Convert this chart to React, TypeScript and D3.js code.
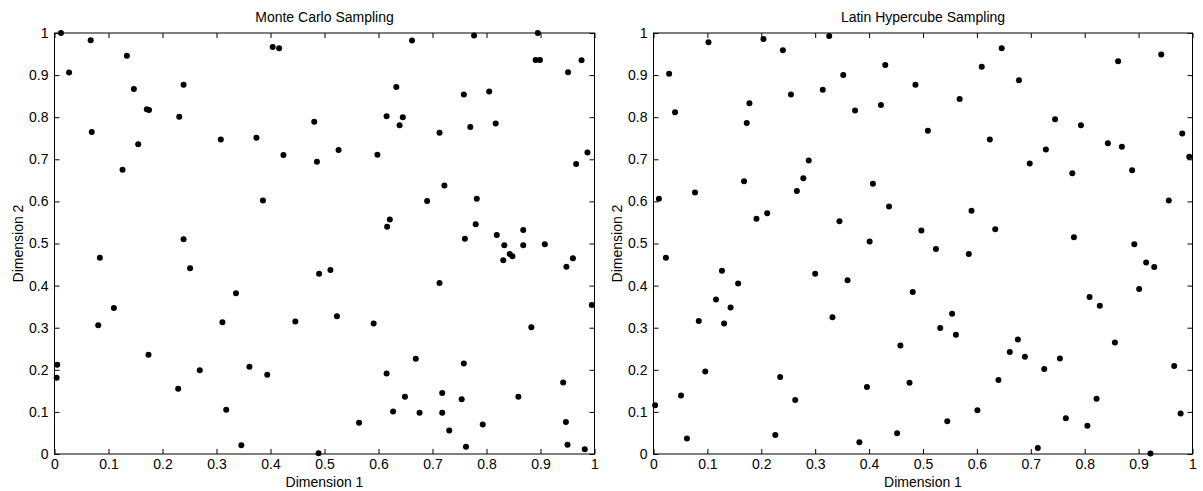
import { useEffect, useRef } from "react";
import * as d3 from "d3";

// Monte Carlo sample points [dim1, dim2]
const mcDim1 = [
  0.012, 0.027, 0.067, 0.069, 0.126, 0.134, 0.147, 0.155, 0.171, 0.175,
  0.231, 0.239, 0.239, 0.308, 0.374, 0.386, 0.404, 0.416, 0.424, 0.481,
  0.486, 0.526, 0.598, 0.615, 0.633, 0.639, 0.645, 0.662, 0.69, 0.713,
  0.722, 0.758, 0.77, 0.777, 0.782, 0.805, 0.817, 0.78, 0.76, 0.616,
  0.621, 0.819, 0.833, 0.868, 0.868, 0.908, 0.895, 0.891, 0.899, 0.951,
  0.976, 0.966, 0.987, 0.084, 0.251, 0.49, 0.336, 0.11, 0.081, 0.311,
  0.446, 0.174, 0.005, 0.004, 0.269, 0.361, 0.394, 0.229, 0.318, 0.346,
  0.489, 0.511, 0.713, 0.523, 0.591, 0.883, 0.995, 0.669, 0.758, 0.615,
  0.942, 0.649, 0.718, 0.754, 0.859, 0.627, 0.676, 0.718, 0.564, 0.731,
  0.793, 0.947, 0.762, 0.95, 0.982, 0.831, 0.843, 0.848, 0.948, 0.96,
];
const mcDim2 = [
  1.0, 0.906, 0.983, 0.765, 0.675, 0.946, 0.867, 0.736, 0.819, 0.817,
  0.801, 0.877, 0.51, 0.747, 0.751, 0.602, 0.967, 0.964, 0.71, 0.789,
  0.694, 0.722, 0.711, 0.802, 0.872, 0.781, 0.8, 0.982, 0.601, 0.763,
  0.638, 0.854, 0.777, 0.994, 0.606, 0.861, 0.785, 0.546, 0.511, 0.54,
  0.557, 0.52, 0.496, 0.532, 0.496, 0.498, 1.0, 0.936, 0.936, 0.907,
  0.935, 0.689, 0.716, 0.466, 0.441, 0.428, 0.382, 0.347, 0.306, 0.313,
  0.315, 0.236, 0.212, 0.181, 0.199, 0.207, 0.188, 0.155, 0.105, 0.021,
  0.002, 0.437, 0.406, 0.327, 0.31, 0.301, 0.354, 0.226, 0.215, 0.191,
  0.17, 0.136, 0.145, 0.13, 0.136, 0.101, 0.098, 0.098, 0.074, 0.056,
  0.07, 0.076, 0.017, 0.022, 0.011, 0.46, 0.475, 0.47, 0.445, 0.465,
];

// Latin Hypercube sample points [dim1, dim2]
const lhsDim1 = [
  0.01, 0.029, 0.04, 0.077, 0.102, 0.168, 0.173, 0.178, 0.191, 0.204,
  0.211, 0.24, 0.255, 0.266, 0.278, 0.288, 0.314, 0.326, 0.345, 0.352,
  0.374, 0.401, 0.407, 0.422, 0.43, 0.437, 0.486, 0.497, 0.509, 0.524,
  0.568, 0.59, 0.609, 0.624, 0.634, 0.646, 0.678, 0.698, 0.728, 0.745,
  0.777, 0.793, 0.78, 0.843, 0.862, 0.869, 0.888, 0.892, 0.942, 0.956,
  0.981, 0.994, 0.023, 0.127, 0.157, 0.116, 0.143, 0.084, 0.131, 0.096,
  0.051, 0.003, 0.062, 0.3, 0.36, 0.332, 0.235, 0.263, 0.226, 0.382,
  0.396, 0.481, 0.458, 0.475, 0.452, 0.585, 0.914, 0.929, 0.901, 0.809,
  0.828, 0.554, 0.532, 0.561, 0.676, 0.856, 0.661, 0.689, 0.754, 0.966,
  0.725, 0.64, 0.822, 0.601, 0.978, 0.545, 0.765, 0.805, 0.713, 0.922,
];
const lhsDim2 = [
  0.606, 0.903, 0.812, 0.621, 0.978, 0.648, 0.786, 0.833, 0.559, 0.986,
  0.572, 0.959, 0.854, 0.625, 0.655, 0.697, 0.865, 0.993, 0.553, 0.9,
  0.816, 0.505, 0.642, 0.829, 0.924, 0.588, 0.877, 0.531, 0.768, 0.487,
  0.843, 0.578, 0.92, 0.747, 0.534, 0.964, 0.888, 0.69, 0.723, 0.795,
  0.667, 0.781, 0.515, 0.738, 0.933, 0.73, 0.674, 0.498, 0.949, 0.602,
  0.761, 0.706, 0.466, 0.435, 0.405, 0.367, 0.348, 0.316, 0.31, 0.196,
  0.139, 0.116, 0.037, 0.428, 0.413, 0.325, 0.183, 0.128, 0.045, 0.028,
  0.159, 0.385, 0.258, 0.169, 0.049, 0.475, 0.455, 0.444, 0.392, 0.373,
  0.352, 0.333, 0.299, 0.283, 0.272, 0.265, 0.242, 0.231, 0.227, 0.209,
  0.202, 0.176, 0.131, 0.104, 0.096, 0.078, 0.085, 0.067, 0.014, 0.001,
];

const tickValues = d3.range(0, 11).map((i) => i / 10);

const W = 1203;
const H = 491;
const FONT = "'Liberation Sans', Arial, sans-serif";

function ScatterPanel({ left, right, title, xs, ys }) {
  const xAxisRef = useRef();
  const yAxisRef = useRef();
  const topRef = useRef();
  const rightRef = useRef();

  const top = 33;
  const bottom = 454;

  const xScale = d3.scaleLinear().domain([0, 1]).range([left, right]);
  const yScale = d3.scaleLinear().domain([0, 1]).range([bottom, top]);

  useEffect(() => {
    const fmt = (d) => String(+d.toFixed(1));
    const style = (g) => {
      g.select(".domain").remove();
      g.selectAll("line").attr("stroke", "#000");
      g.selectAll("text")
        .attr("fill", "#000")
        .style("font-family", FONT)
        .style("font-size", "14px");
    };
    d3.select(xAxisRef.current)
      .call(d3.axisBottom(xScale).tickValues(tickValues).tickSizeInner(-5).tickSizeOuter(0).tickPadding(5).tickFormat(fmt))
      .call(style);
    d3.select(yAxisRef.current)
      .call(d3.axisLeft(yScale).tickValues(tickValues).tickSizeInner(-5).tickSizeOuter(0).tickPadding(6).tickFormat(fmt))
      .call(style);
    d3.select(topRef.current)
      .call(d3.axisTop(xScale).tickValues(tickValues).tickSizeInner(-5).tickSizeOuter(0).tickFormat(() => ""))
      .call(style);
    d3.select(rightRef.current)
      .call(d3.axisRight(yScale).tickValues(tickValues).tickSizeInner(-5).tickSizeOuter(0).tickFormat(() => ""))
      .call(style);
  }, []);

  const cx = (left + right) / 2;

  return (
    <g>
      <rect x={left} y={top} width={right - left} height={bottom - top} fill="none" stroke="#000" strokeWidth={1} />
      <g ref={xAxisRef} transform={`translate(0,${bottom})`}></g>
      <g ref={yAxisRef} transform={`translate(${left},0)`}></g>
      <g ref={topRef} transform={`translate(0,${top})`}></g>
      <g ref={rightRef} transform={`translate(${right},0)`}></g>
      {xs.map((d, i) => (
        <circle key={i} cx={xScale(d)} cy={yScale(ys[i])} r={3} fill="#000" />
      ))}
      <text x={cx} y={22} textAnchor="middle" fontFamily={FONT} fontSize={14} fill="#000">
        {title}
      </text>
      <text x={cx} y={487} textAnchor="middle" fontFamily={FONT} fontSize={14} fill="#000">
        Dimension 1
      </text>
      <text
        transform={`translate(${left - 32},${(top + bottom) / 2}) rotate(-90)`}
        textAnchor="middle"
        fontFamily={FONT}
        fontSize={14}
        fill="#000"
      >
        Dimension 2
      </text>
    </g>
  );
}

export default function App() {
  return (
    <svg width={W} height={H} style={{ position: "absolute", left: 0, top: 0, background: "#fff" }}>
      <rect width={W} height={H} fill="#fff" />
      <ScatterPanel left={54.5} right={594.5} title="Monte Carlo Sampling" xs={mcDim1} ys={mcDim2} />
      <ScatterPanel left={653.5} right={1192.5} title="Latin Hypercube Sampling" xs={lhsDim1} ys={lhsDim2} />
    </svg>
  );
}
